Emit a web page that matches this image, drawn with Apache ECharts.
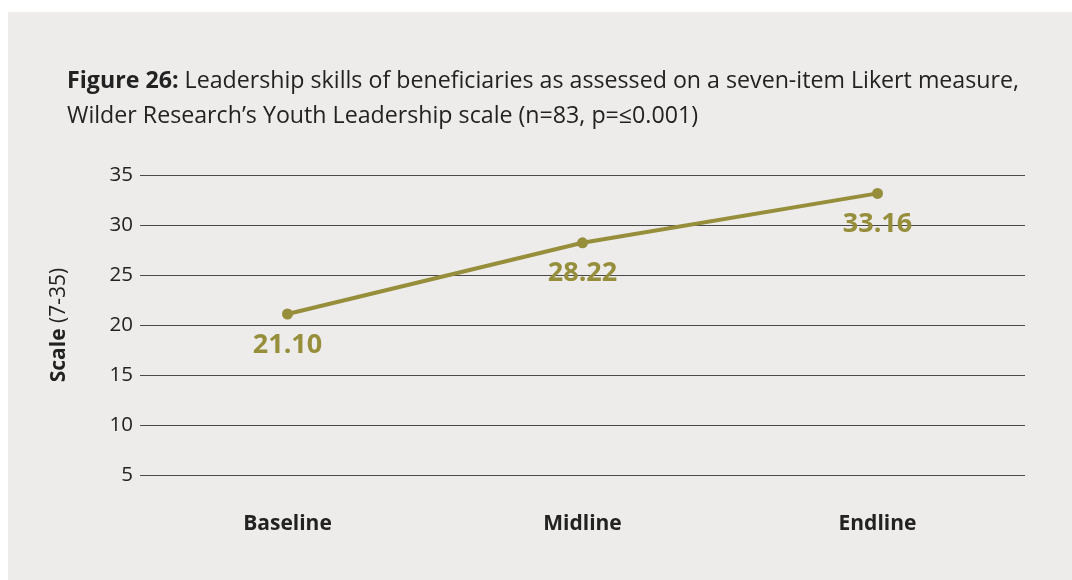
<!DOCTYPE html>
<html>
<head>
<meta charset="utf-8">
<script src="https://cdn.jsdelivr.net/npm/echarts@6/dist/echarts.min.js"></script>
<style>
html,body{margin:0;padding:0;background:#ffffff;}
#chart{width:1072px;height:580px;}
</style>
</head>
<body>
<div id="chart"></div>
<script>
const categories = ['Baseline', 'Midline', 'Endline'];
const scores = [21.10, 28.22, 33.16];
const yTicks = { min: 5, max: 35, interval: 5 };
const titleBold = 'Figure 26:';
const titleLine1 = ' Leadership skills of beneficiaries as assessed on a seven-item Likert measure,';
const titleLine2 = 'Wilder Research\u2019s Youth Leadership scale (n=83, p=\u22640.001)';
const axisNameBold = 'Scale';
const axisNameRest = ' (7-35)';

const FONT = '"Open Sans", sans-serif';
const OLIVE = '#968e3b';

const chart = echarts.init(document.getElementById('chart'));
chart.setOption({
  backgroundColor: '#ffffff',
  animation: false,
  graphic: [{
    type: 'rect', z: -10, silent: true,
    shape: { x: 8, y: 12, width: 1064, height: 568 },
    style: { fill: '#edecea' }
  }],
  title: {
    left: 62, top: 59,
    text: '{b|' + titleBold + '}{r|' + titleLine1 + '}\n{r|' + titleLine2 + '}',
    textStyle: {
      fontFamily: FONT, fontSize: 23.2, fontWeight: 'normal', color: '#222', lineHeight: 35,
      rich: {
        b: { fontFamily: FONT, fontWeight: 'bold', fontSize: 23.2, color: '#222', lineHeight: 35 },
        r: { fontFamily: FONT, fontWeight: 'normal', fontSize: 23.2, color: '#222', lineHeight: 35 }
      }
    }
  },
  grid: { left: 140, right: 47, top: 175, bottom: 105 },
  xAxis: {
    type: 'category',
    data: categories,
    boundaryGap: true,
    axisLine: { show: false },
    axisTick: { show: false },
    axisLabel: { margin: 39, fontFamily: FONT, fontWeight: 'bold', fontSize: 21, color: '#222' }
  },
  yAxis: {
    type: 'value',
    min: yTicks.min, max: yTicks.max, interval: yTicks.interval,
    name: '{b|' + axisNameBold + '}{r|' + axisNameRest + '}',
    nameLocation: 'middle',
    nameRotate: 90,
    nameGap: 70,
    nameTextStyle: {
      fontFamily: FONT, fontSize: 21, color: '#222',
      rich: {
        b: { fontFamily: FONT, fontWeight: 'bold', fontSize: 21, color: '#222' },
        r: { fontFamily: FONT, fontWeight: 'normal', fontSize: 21, color: '#222' }
      }
    },
    axisLine: { show: false },
    axisTick: { show: false },
    axisLabel: { margin: 7, fontFamily: FONT, fontSize: 20.5, color: '#222' },
    splitLine: { lineStyle: { color: '#4a4a4a', width: 1.2 } }
  },
  series: [{
    type: 'line',
    data: scores,
    symbol: 'circle',
    symbolSize: 11,
    lineStyle: { color: OLIVE, width: 4 },
    itemStyle: { color: OLIVE },
    label: {
      show: true,
      position: 'bottom',
      distance: 12,
      formatter: p => p.value.toFixed(2),
      fontFamily: FONT, fontWeight: 'bold', fontSize: 27, color: OLIVE
    }
  }]
});
</script>
</body>
</html>
